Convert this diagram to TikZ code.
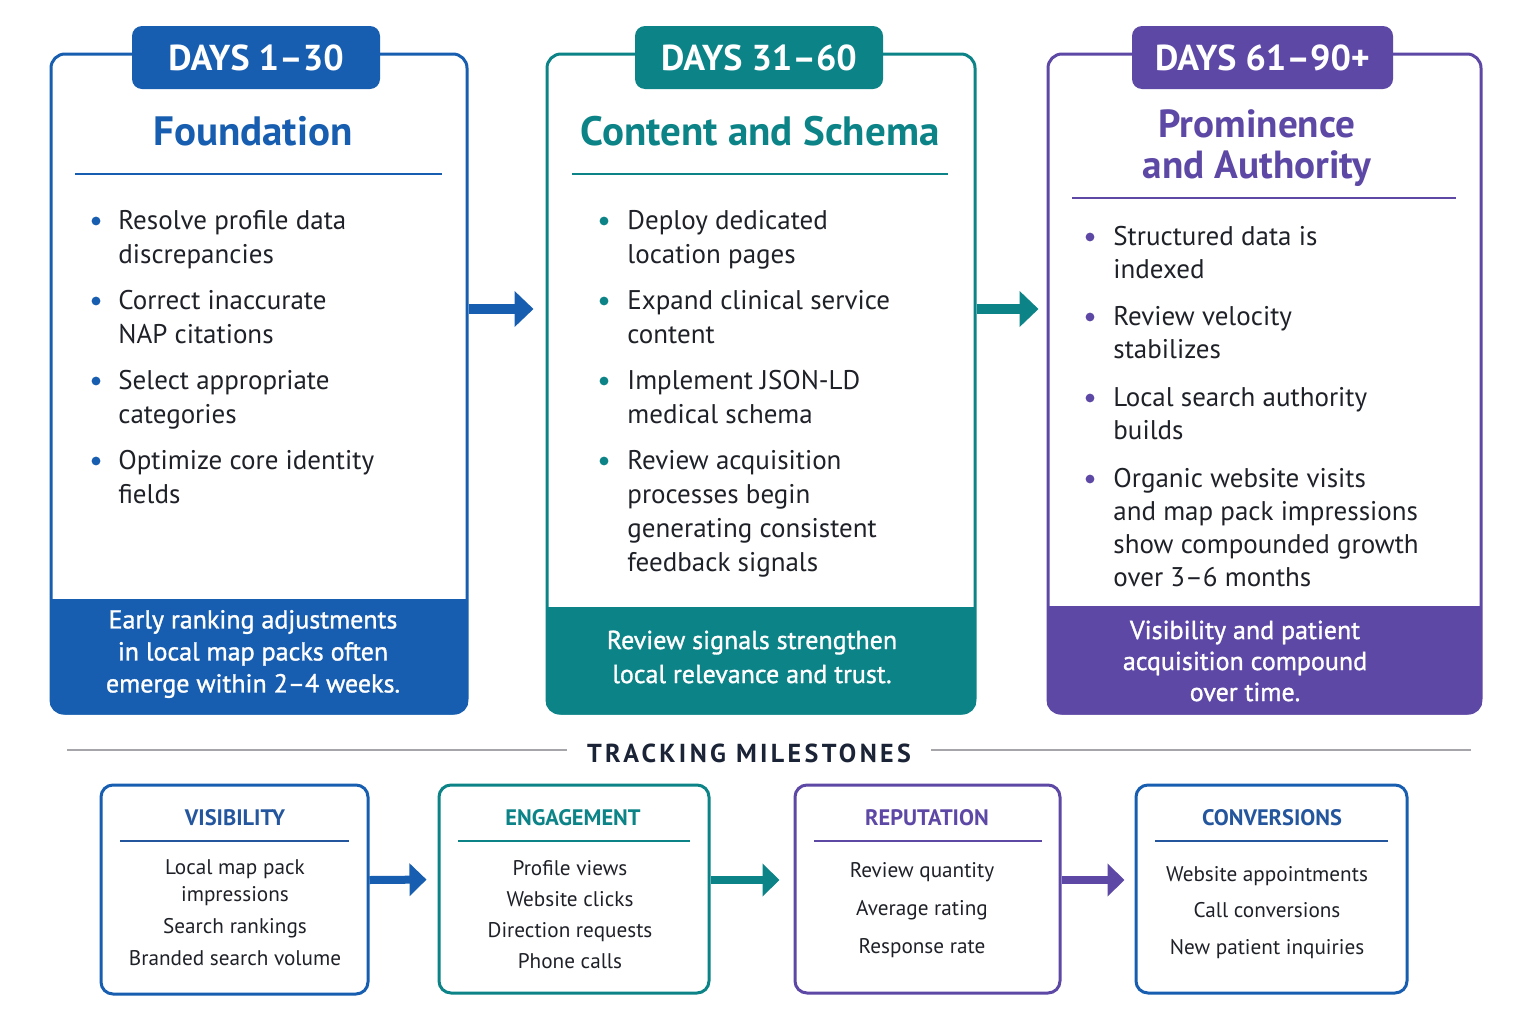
\documentclass[tikz,border=0pt]{standalone}
\usepackage{fontspec}
\setmainfont{PT Sans}
\newfontfamily\medfont[FakeBold=1.2,Ligatures=TeX]{PT Sans}
\usetikzlibrary{arrows.meta}

\definecolor{dayblue}{HTML}{185EB0}
\definecolor{dayteal}{HTML}{0B8387}
\definecolor{daypurple}{HTML}{5D48A6}
\definecolor{headblue}{HTML}{24569E}
\definecolor{inktext}{HTML}{1F2128}
\definecolor{rulegray}{HTML}{A6A6AA}
\definecolor{navyink}{HTML}{1B2436}

\tikzset{
  panel/.style={draw=#1, line width=1.5pt, rounded corners=7pt, fill=white, inner sep=0pt},
  daytab/.style={fill=#1, rounded corners=5pt, text=white, inner sep=0pt,
    font=\bfseries\fontsize{18}{22}\selectfont},
  phasetitle/.style={text=#1, align=center, inner sep=0pt,
    font=\bfseries\fontsize{20.5}{20.5}\selectfont},
  itemtext/.style={anchor=north west, align=left, inner sep=0pt, text=inktext,
    font=\fontsize{13.5}{17}\selectfont},
  foottext/.style={text=white, align=center, inner sep=0pt,
    font=\medfont\fontsize{13}{16}\selectfont},
  fatarrow/.style={draw=#1, line width=5pt, -{Triangle[length=9.5pt,width=17.5pt]}},
  mbox/.style={draw=#1, line width=1.5pt, rounded corners=6pt, fill=white, inner sep=0pt},
  mhead/.style={text=#1, inner sep=0pt, font=\bfseries\fontsize{11.2}{13}\selectfont},
  mbody/.style={text=inktext, align=center, inner sep=0pt},
  slimarrow/.style={draw=#1, line width=4pt, -{Triangle[length=8.5pt,width=16pt]}}
}

\begin{document}
\begin{tikzpicture}[x=0.5pt,y=-0.5pt]
  \useasboundingbox[fill=white] (0,0) rectangle (1532,1023);

  % three phase panels
  \node[panel=dayblue, minimum width=208pt, minimum height=329.5pt] (phase1) at (259,383.5) {};
  \node[panel=dayteal, minimum width=214pt, minimum height=329.5pt] (phase2) at (761,383.5) {};
  \node[panel=daypurple, minimum width=216.5pt, minimum height=329.5pt] (phase3) at (1264.5,383.5) {};

  % coloured footer bands
  \begin{scope}
    \clip[rounded corners=7pt] (phase1.south west) rectangle (phase1.north east);
    \fill[dayblue] (phase1.south west) rectangle ([yshift=58pt]phase1.south east);
  \end{scope}
  \begin{scope}
    \clip[rounded corners=7pt] (phase2.south west) rectangle (phase2.north east);
    \fill[dayteal] (phase2.south west) rectangle ([yshift=54pt]phase2.south east);
  \end{scope}
  \begin{scope}
    \clip[rounded corners=7pt] (phase3.south west) rectangle (phase3.north east);
    \fill[daypurple] (phase3.south west) rectangle ([yshift=54.5pt]phase3.south east);
  \end{scope}

  % tabs
  \node[daytab=dayblue, minimum width=124pt, minimum height=31.5pt] (tab1) at (256,57.5) {DAYS 1--30};
  \node[daytab=dayteal, minimum width=124pt, minimum height=31.5pt] (tab2) at (759,57.5) {DAYS 31--60};
  \node[daytab=daypurple, minimum width=130.5pt, minimum height=31.5pt] (tab3) at (1262.5,57.5) {DAYS 61--90+};

  % titles and rules
  \node[phasetitle=dayblue, anchor=base] (title1) at (253,145) {Foundation};
  \node[phasetitle=dayteal, anchor=base] (title2) at (760,145) {Content and Schema};
  \node[phasetitle=daypurple, font=\bfseries\fontsize{19.6}{20.5}\selectfont] (title3) at (1257,148) {Prominence\\and Authority};
  \draw[dayblue, line width=1pt] (75,174) -- (442,174);
  \draw[dayteal, line width=1pt] (572,174) -- (948,174);
  \draw[daypurple, line width=1pt] (1072,198) -- (1456,198);

  % bullet lists
  \foreach \fy/\txt [count=\i] in {221/{Resolve profile data\\discrepancies},
      301/{Correct inaccurate\\NAP citations}, 381/{Select appropriate\\categories},
      461/{Optimize core identity\\fields}}{
    \node[itemtext] (lista\i) at (118,\fy-11) {\txt};
    \fill[dayblue] ([xshift=-11pt,yshift=-5.5pt]lista\i.north west) circle (2.2pt);
  }
  \foreach \fy/\txt [count=\i] in {221/{Deploy dedicated\\location pages},
      301/{Expand clinical service\\content}, 381/{Implement JSON-LD\\medical schema},
      461/{Review acquisition\\processes begin\\generating consistent\\feedback signals}}{
    \node[itemtext] (listb\i) at (627,\fy-11) {\txt};
    \fill[dayteal] ([xshift=-11.5pt,yshift=-5.5pt]listb\i.north west) circle (2.2pt);
  }
  \foreach \fy/\txt [count=\i] in {237/{Structured data is\\indexed},
      317/{Review velocity\\stabilizes}, 398/{Local search authority\\builds},
      479/{Organic website visits\\and map pack impressions\\show compounded growth\\over 3--6 months}}{
    \node[itemtext, font=\fontsize{13.5}{16.5}\selectfont] (listc\i) at (1113,\fy-11) {\txt};
    \fill[daypurple] ([xshift=-11.5pt,yshift=-5.5pt]listc\i.north west) circle (2.2pt);
  }

  % footer notes
  \node[foottext] (foot1) at (253,654) {Early ranking adjustments\\in local map packs often\\emerge within 2--4 weeks.};
  \node[foottext, font=\medfont\fontsize{13}{17}\selectfont] (foot2) at (752,657) {Review signals strengthen\\local relevance and trust.};
  \node[foottext, font=\medfont\fontsize{13}{15.5}\selectfont] (foot3) at (1245,661) {Visibility and patient\\acquisition compound\\over time.};

  % phase arrows
  \draw[fatarrow=dayblue, shorten >=6pt] ([yshift=37.25pt]phase1.east) -- ([yshift=37.25pt]phase2.west);
  \draw[fatarrow=dayteal, shorten >=4pt] ([yshift=37.25pt]phase2.east) -- ([yshift=37.25pt]phase3.west);

  % tracking milestones heading
  \node[text=navyink, inner xsep=10pt, inner ysep=0pt,
    font=\bfseries\fontsize{13}{15}\selectfont\addfontfeature{LetterSpace=13}] (track) at (749,753) {TRACKING MILESTONES};
  \coordinate (trackL) at (67,750);
  \coordinate (trackR) at (1471,750);
  \draw[rulegray, line width=1pt] (trackL) -- (track.west |- trackL);
  \draw[rulegray, line width=1pt] (track.east |- trackR) -- (trackR);

  % milestone boxes
  \node[mbox=dayblue, minimum width=133.5pt, minimum height=104.5pt] (visib) at (234.5,889.5) {};
  \node[mbox=dayteal, minimum width=135pt, minimum height=104pt] (engag) at (574,889) {};
  \node[mbox=daypurple, minimum width=132.5pt, minimum height=104pt] (reput) at (927.5,889) {};
  \node[mbox=dayblue, minimum width=135.5pt, minimum height=104pt] (conv) at (1271.5,889) {};

  \node[mhead=headblue] (visibH) at (235,818) {VISIBILITY};
  \node[mhead=dayteal] (engagH) at (573,818) {ENGAGEMENT};
  \node[mhead=daypurple] (reputH) at (927,818) {REPUTATION};
  \node[mhead=headblue] (convH) at (1272,818) {CONVERSIONS};
  \draw[headblue, line width=0.8pt] (120,841) -- (349,841);
  \draw[dayteal, line width=0.8pt] (458,841) -- (690,841);
  \draw[daypurple, line width=0.8pt] (814,841) -- (1042,841);
  \draw[headblue, line width=0.8pt] (1155,841) -- (1388,841);

  \node[mbody, font=\fontsize{10.6}{13.5}\selectfont] (visibB) at (235,912.5)
    {Local map pack\\impressions\\[2.5pt]Search rankings\\[2.5pt]Branded search volume};
  \node[mbody, font=\fontsize{10.6}{15.5}\selectfont] (engagB) at (570,914.5)
    {Profile views\\Website clicks\\Direction requests\\Phone calls};
  \node[mbody, font=\fontsize{10.6}{19}\selectfont] (reputB) at (922,910)
    {Review quantity\\Average rating\\Response rate};
  \node[mbody, font=\fontsize{10.6}{18.25}\selectfont] (convB) at (1267,912.5)
    {Website appointments\\Call conversions\\New patient inquiries};

  % milestone arrows
  \draw[slimarrow=dayblue, shorten >=5.5pt] ([yshift=4.75pt]visib.east) -- ([yshift=4.75pt]engag.west);
  \draw[slimarrow=dayteal, shorten >=7pt] ([yshift=4.5pt]engag.east) -- ([yshift=4.5pt]reput.west);
  \draw[slimarrow=daypurple, shorten >=5pt] ([yshift=4.5pt]reput.east) -- ([yshift=4.5pt]conv.west);
\end{tikzpicture}
\end{document}
